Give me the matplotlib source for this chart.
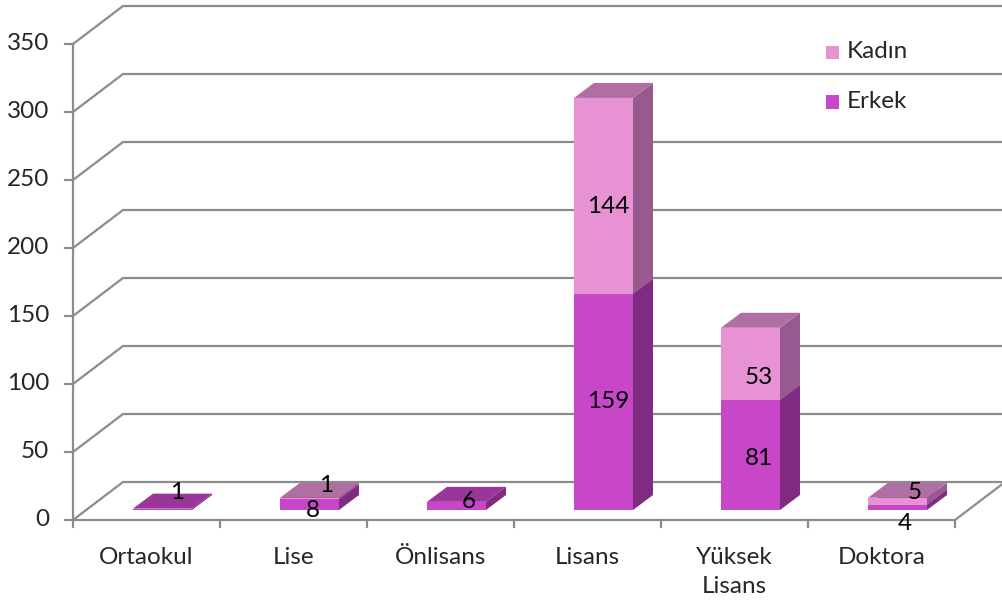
import matplotlib
matplotlib.use("Agg")
import matplotlib.pyplot as plt
from matplotlib.patches import Polygon, Rectangle

plt.rcParams['font.family'] = ['Lato', 'DejaVu Sans']

categories = ["Ortaokul", "Lise", "Önlisans", "Lisans", "Yüksek\nLisans", "Doktora"]
erkek = [1, 8, 6, 159, 81, 4]
kadin = [0, 1, 0, 144, 53, 5]
yticks = [0, 50, 100, 150, 200, 250, 300, 350]

# label nudges in pixels (right, up) – Excel's placement of small labels
erkek_nudge = [(15, 17), (3, -6), (12, 4), (5, 0), (8, -4), (7, -16)]
kadin_nudge = [(0, 0), (17, 13), (0, 0), (5, -11), (8, -14), (17, 9)]

FS = 17.5
W, H = 1003, 604
X0, X1 = 73, 955
Y0, YT = 520, 44
fig = plt.figure(figsize=(W / 100, H / 100), dpi=100)
ax = fig.add_axes([X0 / W, 1 - Y0 / H, (X1 - X0) / W, (Y0 - YT) / H])
n = len(categories)
ax.set_xlim(0, n)
ax.set_ylim(0, 350)
ax.axis('off')

sx = (X1 - X0) / n          # px per category
sy = (Y0 - YT) / 350.0      # px per unit


def dx(px):
    return px / sx


def dy(px):
    return px / sy


grid_c = '#8c8c8c'
glw = 1.6
DEPTH = (50, 38)          # wall depth in px
right_edge = n + dx(W - X1)

# back wall gridlines
for v in yticks:
    ax.plot([0, dx(DEPTH[0]), right_edge], [v, v + dy(DEPTH[1]), v + dy(DEPTH[1])],
            color=grid_c, lw=glw, clip_on=False, zorder=1, solid_capstyle='butt')
# floor front & right edges
ax.plot([0, n, n + dx(DEPTH[0])], [0, 0, dy(DEPTH[1])], color=grid_c, lw=glw,
        clip_on=False, zorder=1)
# vertical axis
ax.plot([0, 0], [0, 350], color=grid_c, lw=glw, clip_on=False, zorder=1)
for v in yticks:
    ax.plot([-dx(8), 0], [v, v], color=grid_c, lw=glw, clip_on=False, zorder=1)
    ax.text(-dx(24), v, str(v), ha='right', va='center', fontsize=FS,
            color='#262626')
for i in range(n + 1):
    ax.plot([i, i], [0, -dy(7)], color=grid_c, lw=glw, clip_on=False, zorder=1)
for i, c in enumerate(categories):
    ax.text(i + 0.5, -dy(27), c, ha='center', va='top', fontsize=FS,
            color='#262626', linespacing=1.45)

# bars
SHIFT = (16, 10)     # bar front plane relative to floor front
BD = (20, 15)        # bar depth
BW = 59              # bar front width px
colors = {
    'erkek': ('#c847c8', '#7f2b7f', '#9a369a'),
    'kadin': ('#e892d6', '#985a8e', '#b06fa3'),
}


def draw_seg(xc, base, h, cols, z):
    x0 = xc - dx(BW / 2)
    x1 = xc + dx(BW / 2)
    y0 = dy(SHIFT[1]) + base
    y1 = y0 + h
    ddx, ddy = dx(BD[0]), dy(BD[1])
    front, side, top = cols
    ax.add_patch(Polygon([(x1, y0), (x1 + ddx, y0 + ddy), (x1 + ddx, y1 + ddy), (x1, y1)],
                         closed=True, facecolor=side, edgecolor='none', zorder=z,
                         clip_on=False))
    ax.add_patch(Polygon([(x0, y1), (x1, y1), (x1 + ddx, y1 + ddy), (x0 + ddx, y1 + ddy)],
                         closed=True, facecolor=top, edgecolor='none', zorder=z,
                         clip_on=False))
    ax.add_patch(Rectangle((x0, y0), x1 - x0, h, facecolor=front, edgecolor='none',
                           zorder=z, clip_on=False))
    return (x0 + x1) / 2, (y0 + y1) / 2


for i in range(n):
    xc = i + 0.5 + dx(SHIFT[0])
    cx, cy = draw_seg(xc, 0, erkek[i], colors['erkek'], 3)
    ax.text(cx + dx(erkek_nudge[i][0]), cy + dy(erkek_nudge[i][1]), str(erkek[i]),
            ha='center', va='center', fontsize=FS, color='black', zorder=10)
    if kadin[i] > 0:
        cx, cy = draw_seg(xc, erkek[i], kadin[i], colors['kadin'], 4)
        ax.text(cx + dx(kadin_nudge[i][0]), cy + dy(kadin_nudge[i][1]), str(kadin[i]),
                ha='center', va='center', fontsize=FS, color='black', zorder=10)

# legend
for lab, col, ypx in [("Kadın", colors['kadin'][0], 52), ("Erkek", colors['erkek'][0], 102)]:
    fig.patches.append(Rectangle((826 / W, 1 - (ypx + 6.5) / H), 13 / W, 13 / H,
                                 facecolor=col, edgecolor='none',
                                 transform=fig.transFigure, figure=fig))
    fig.text(847 / W, 1 - ypx / H, lab, ha='left', va='center', fontsize=FS,
             color='#262626')

fig.savefig("out.png", dpi=100, facecolor='white')
